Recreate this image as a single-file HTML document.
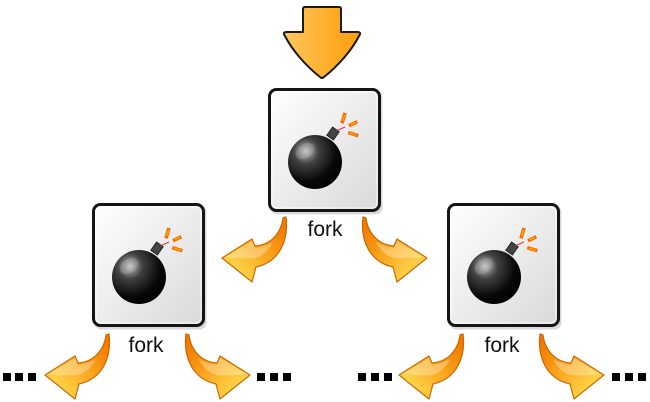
<!DOCTYPE html>
<html><head><meta charset="utf-8"><style>
html,body{margin:0;padding:0;background:#fff;}
svg{display:block;}
text{font-family:"Liberation Sans",sans-serif;}
</style></head><body>
<svg width="650" height="402" viewBox="0 0 650 402" xmlns="http://www.w3.org/2000/svg">
<defs>
  <linearGradient id="boxg" x1="0" y1="0" x2="1" y2="1">
    <stop offset="0" stop-color="#ffffff"/>
    <stop offset="1" stop-color="#d9d9d9"/>
  </linearGradient>
  <radialGradient id="ballg" cx="0.33" cy="0.3" r="0.8">
    <stop offset="0" stop-color="#c0c0c0"/>
    <stop offset="0.3" stop-color="#404040"/>
    <stop offset="0.7" stop-color="#080808"/>
    <stop offset="1" stop-color="#000"/>
  </radialGradient>
  <linearGradient id="downg" x1="0" y1="0" x2="1" y2="0">
    <stop offset="0" stop-color="#ffc65c"/>
    <stop offset="1" stop-color="#fc9d0a"/>
  </linearGradient>
  <linearGradient id="curvg" gradientUnits="userSpaceOnUse" x1="286" y1="228" x2="238" y2="268">
    <stop offset="0" stop-color="#f27800"/>
    <stop offset="0.45" stop-color="#f9a018"/>
    <stop offset="1" stop-color="#ffcf45"/>
  </linearGradient>
  <g id="bomb">
    <circle cx="47" cy="74" r="27" fill="url(#ballg)"/>
    <ellipse cx="37" cy="63" rx="10" ry="7" fill="#fff" opacity="0.15" transform="rotate(-35 37 63)"/>
    <rect x="61" y="40.5" width="8" height="10" fill="#444" stroke="#222" stroke-width="1" transform="rotate(35 65 45.5)"/>
    <line x1="68.7" y1="42.7" x2="77" y2="39" stroke="#e03030" stroke-width="1"/>
    <line x1="77" y1="25" x2="74" y2="35.3" stroke="#ff6a00" stroke-width="3.6"/>
    <line x1="81" y1="37.7" x2="89.3" y2="33.7" stroke="#ff6a00" stroke-width="3.6"/>
    <line x1="80.3" y1="44.7" x2="90.3" y2="47.7" stroke="#ff6a00" stroke-width="3.6"/>
    <line x1="76.6" y1="27" x2="74.6" y2="33" stroke="#ffb000" stroke-width="1.2"/>
    <line x1="82.5" y1="36.8" x2="88" y2="34.2" stroke="#ffb000" stroke-width="1.2"/>
    <line x1="82" y1="45.2" x2="88.5" y2="47.2" stroke="#ffb000" stroke-width="1.2"/>
  </g>
  <g id="box">
    <rect x="2.5" y="2.5" width="112" height="124" rx="7" fill="#000" opacity="0.15"/>
    <rect x="1.5" y="1.5" width="110" height="121" rx="7" fill="url(#boxg)" stroke="#151515" stroke-width="3"/>
    <rect x="4" y="4" width="105" height="116" rx="5" fill="none" stroke="#fff" stroke-width="1" opacity="0.8"/>
    <use href="#bomb"/>
  </g>
  <g id="carr">
    <path d="M286,217 C289,241 279,262 256,267 L252,282 L222,258 L252,239 L255,246 C270,245 281,234 283,218 Z" fill="url(#curvg)" stroke="#c96800" stroke-width="1.2" stroke-linejoin="round"/>
    <path d="M226,257 L252,241 L255,248 C262,247 268,245 273,242 C268,252 262,256 255,258 C245,259 235,258 226,257 Z" fill="#fff" opacity="0.3"/>
  </g>
</defs>

<!-- top down arrow -->
<path d="M303,9 Q303,7 305,7 L339,7 Q341,7 341,9 L341,32 L357,32 Q362,32 359,36 C352,50 338,66 324,77 Q322,79 320,77 C306,66 292,50 285,36 Q282,32 287,32 L303,32 Z" fill="url(#downg)" stroke="#1a1a1a" stroke-width="2" stroke-linejoin="round"/>

<!-- boxes -->
<use href="#box" transform="translate(268,88)"/>
<use href="#box" transform="translate(92,203)"/>
<use href="#box" transform="translate(447,203)"/>

<!-- labels -->
<text x="325" y="236" font-size="21" text-anchor="middle" fill="#111">fork</text>
<text x="146" y="352" font-size="21" text-anchor="middle" fill="#111">fork</text>
<text x="502" y="352" font-size="21" text-anchor="middle" fill="#111">fork</text>

<!-- curved arrows -->
<use href="#carr"/>
<use href="#carr" transform="matrix(-1,0,0,1,649,0)"/>
<use href="#carr" transform="translate(-177,117)"/>
<use href="#carr" transform="matrix(-1,0,0,1,472,117)"/>
<use href="#carr" transform="translate(177,117)"/>
<use href="#carr" transform="matrix(-1,0,0,1,826,117)"/>

<!-- dots -->
<g fill="#000">
  <rect x="3" y="373" width="8" height="8"/><rect x="15" y="373" width="8" height="8"/><rect x="28" y="373" width="8" height="8"/>
  <rect x="257" y="373" width="8" height="8"/><rect x="270" y="373" width="8" height="8"/><rect x="283" y="373" width="8" height="8"/>
  <rect x="358" y="373" width="8" height="8"/><rect x="371" y="373" width="8" height="8"/><rect x="384" y="373" width="8" height="8"/>
  <rect x="612" y="373" width="8" height="8"/><rect x="625" y="373" width="8" height="8"/><rect x="638" y="373" width="8" height="8"/>
</g>
</svg>
</body></html>
